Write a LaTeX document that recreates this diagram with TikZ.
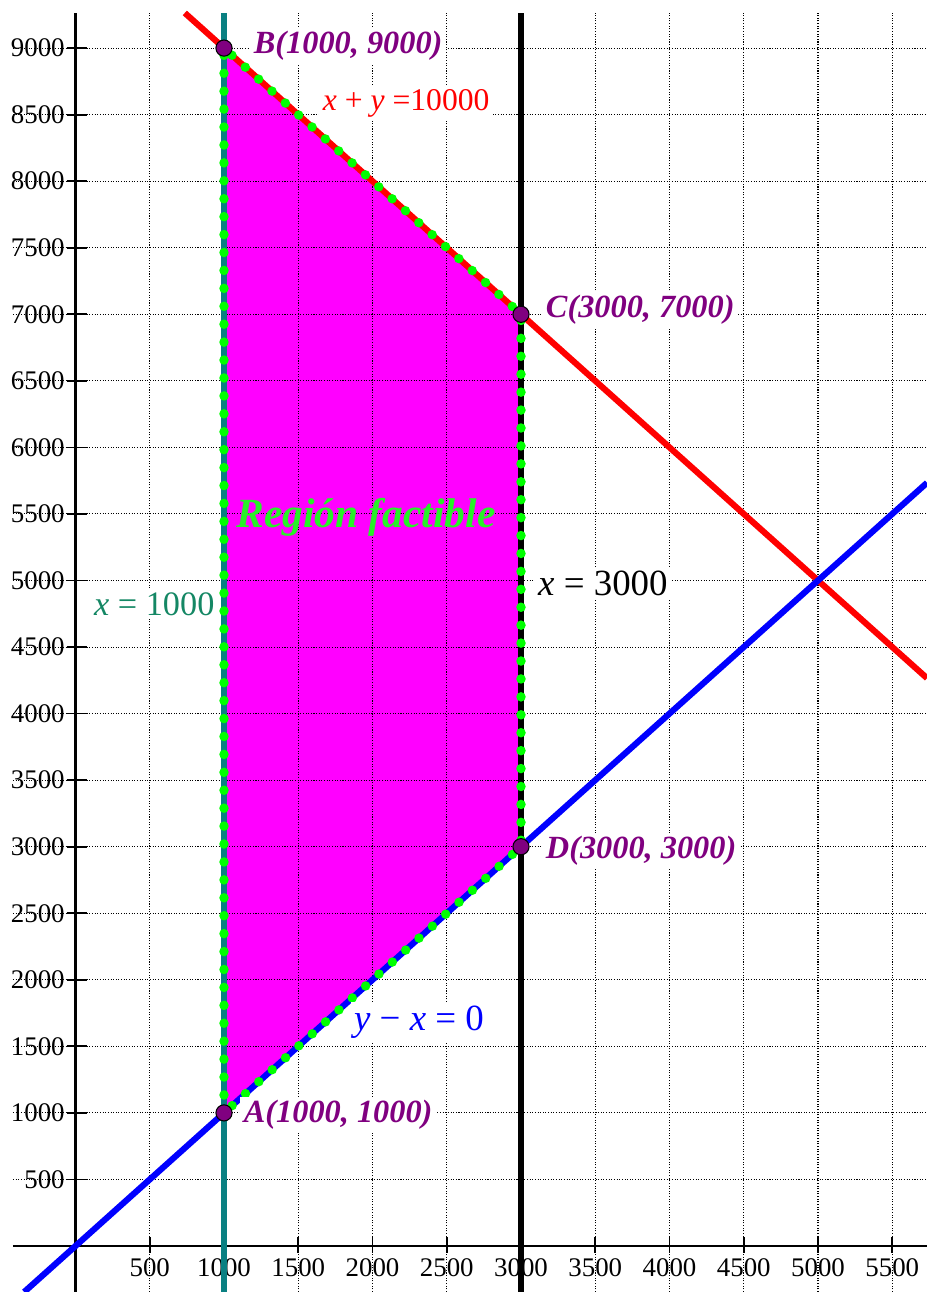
\documentclass[tikz,border=0pt]{standalone}
\usepackage{fontspec}
\setmainfont{Liberation Serif}
\definecolor{ptpurple}{RGB}{128,0,128}
\definecolor{tealline}{RGB}{10,128,130}
\definecolor{teallab}{RGB}{20,135,100}
\definecolor{dotgreen}{RGB}{0,255,0}
\definecolor{regiongreen}{RGB}{40,240,40}
\definecolor{fillmag}{RGB}{255,0,255}
\begin{document}
\begin{tikzpicture}[x=2.97cm,y=2.662cm,
  gridline/.style={black, line width=0.6pt, dash pattern=on 0.6pt off 0.9pt},
  axisline/.style={black, line width=1.7pt},
  ticklab/.style={font=\fontsize{15.3}{18}\selectfont, inner sep=0pt},
  ptlab/.style={font=\fontsize{18.4}{20}\selectfont\bfseries\itshape, text=ptpurple, fill=white, inner sep=2pt, anchor=west},
  ptdot/.style={circle, fill=ptpurple, draw=black, line width=0.6pt, minimum size=9.2pt, inner sep=0pt},
  eqlab/.style={fill=white, inner sep=2pt, anchor=west},
  thickline/.style={line width=3.5pt},
  greendots/.style={dotgreen, line width=5.4pt, line cap=round, dash pattern=on 0pt off 10.2pt}
]
\useasboundingbox (-0.5084,-0.3456) rectangle (5.734,9.3614);
% vertices
\coordinate (A) at (1,1);
\coordinate (B) at (1,9);
\coordinate (C) at (3,7);
\coordinate (D) at (3,3);
% feasible region
\fill[fillmag] (A) -- (B) -- (C) -- (D) -- cycle;
% grid
\foreach \x in {0.5,1,1.5,2,2.5,3,3.5,4,4.5,5,5.5}
  \draw[gridline] (\x,-0.3456) -- (\x,9.264);
\foreach \y in {0.5,1,1.5,2,2.5,3,3.5,4,4.5,5,5.5,6,6.5,7,7.5,8,8.5,9}
  \draw[gridline] (-0.421,\y) -- (5.734,\y);
% axes
\coordinate (xl) at (-0.421,0);
\coordinate (xr) at (5.734,0);
\coordinate (yb) at (0,-0.3456);
\coordinate (yt) at (0,9.264);
\draw[axisline] (xl) -- (xr);
\draw[axisline] (yb) -- (yt);
% ticks
\foreach \x in {0.5,1,1.5,2,2.5,3,3.5,4,4.5,5,5.5}
  \draw[black, line width=1pt] (\x,-0.05) -- (\x,0.065);
\foreach \y in {0.5,1,1.5,2,2.5,3,3.5,4,4.5,5,5.5,6,6.5,7,7.5,8,8.5,9}
  \draw[black, line width=1pt] (-0.06,\y) -- (0.075,\y);
% tick labels
\foreach \x/\l in {0.5/500,1/1000,1.5/1500,2/2000,2.5/2500,3/3000,3.5/3500,4/4000,4.5/4500,5/5000,5.5/5500}
  \node[ticklab] (xt\l) at (\x,-0.165) {\l};
\foreach \y/\l in {0.5/500,1/1000,1.5/1500,2/2000,2.5/2500,3/3000,3.5/3500,4/4000,4.5/4500,5/5000,5.5/5500,6/6000,6.5/6500,7/7000,7.5/7500,8/8000,8.5/8500,9/9000}
  \node[ticklab, anchor=east] (yt\l) at (-0.0707,\y) {\l};
% constraint lines
\coordinate (tb) at (1,-0.3456);
\coordinate (tt) at (1,9.264);
\coordinate (kb) at (3,-0.3456);
\coordinate (kt) at (3,9.264);
\coordinate (rt) at (0.736,9.264);
\coordinate (rr) at (5.734,4.266);
\coordinate (bb) at (-0.3456,-0.3456);
\coordinate (br) at (5.734,5.734);
\draw[thickline, tealline] (tb) -- (tt);
\draw[thickline, black] (kb) -- (kt);
\draw[thickline, red] (rt) -- (rr);
\draw[thickline, blue] (bb) -- (br);
% dotted boundary
\draw[greendots] (A) -- (B) -- (C) -- (D) -- cycle;
% points
\node[ptdot] (pA) at (A) {};
\node[ptdot] (pB) at (B) {};
\node[ptdot] (pC) at (C) {};
\node[ptdot] (pD) at (D) {};
% labels
\node[ptlab] (lB) at (1.175,9.016) {B(1000, 9000)};
\node[ptlab] (lC) at (3.142,7.032) {C(3000, 7000)};
\node[ptlab] (lD) at (3.142,2.968) {D(3000, 3000)};
\node[ptlab] (lA) at (1.108,0.984) {A(1000, 1000)};
\node[eqlab, text=red, font=\fontsize{18}{20}\selectfont] (lr) at (1.64,8.588) {\textit{x} + \textit{y} =10000};
\node[anchor=west, inner sep=0pt, text=regiongreen, font=\fontsize{23.6}{26}\selectfont\bfseries\itshape] (lreg) at (1.081,5.477) {Región factible};
\node[eqlab, text=black, font=\fontsize{21}{24}\selectfont] (lk) at (3.09,4.981) {\textit{x} = 3000};
\node[eqlab, text=teallab, font=\fontsize{19.5}{22}\selectfont] (lt) at (0.10,4.823) {\textit{x} = 1000};
\node[eqlab, text=blue, font=\fontsize{21}{24}\selectfont] (lb) at (1.85,1.683) {\textit{y} − \textit{x} = 0};
\end{tikzpicture}
\end{document}
